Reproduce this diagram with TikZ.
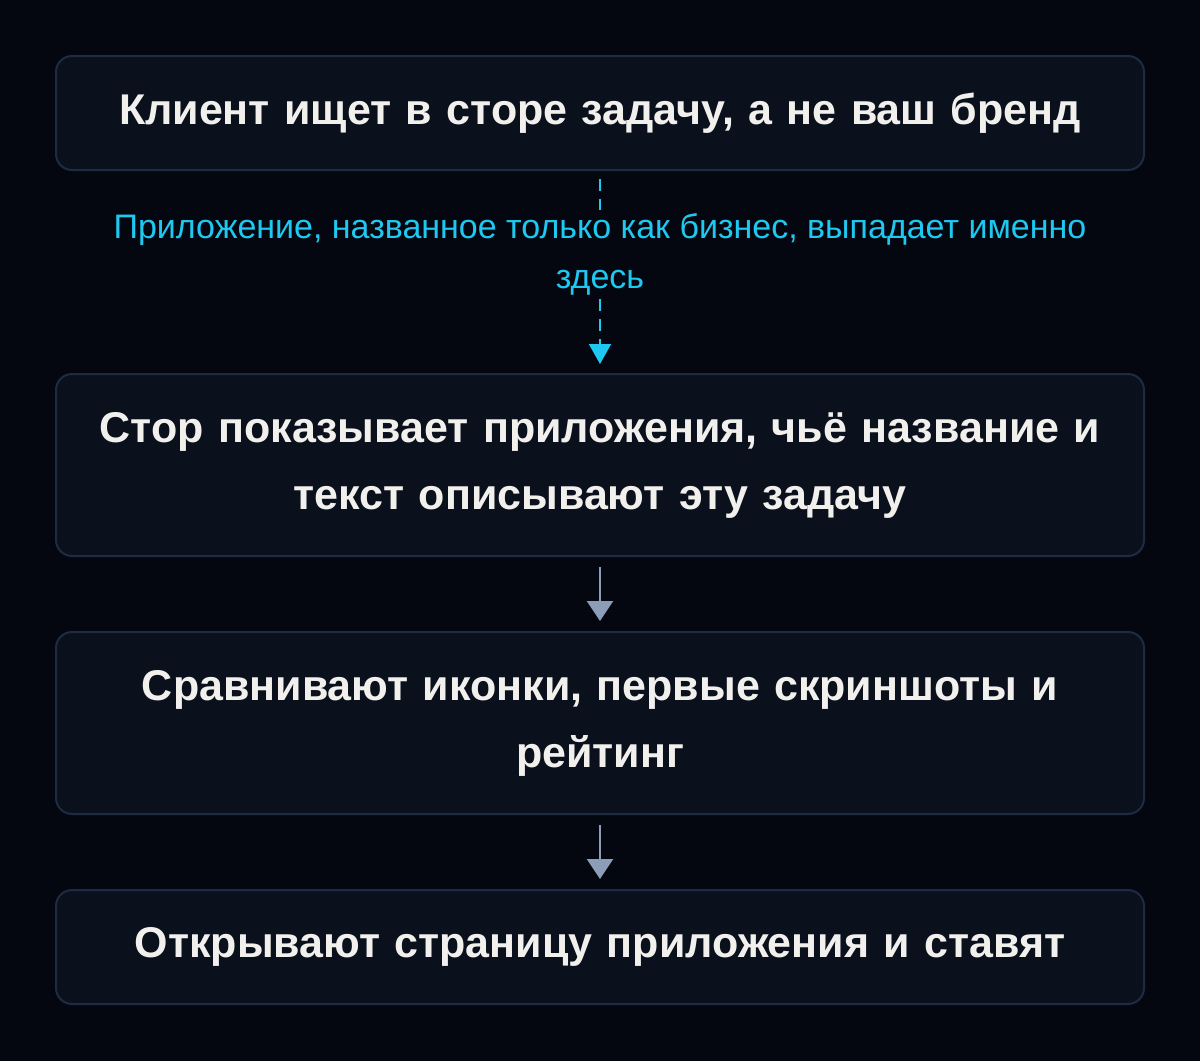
\documentclass[tikz,border=0pt]{standalone}
\usepackage{fontspec}
\setmainfont{Liberation Sans}[WordSpace=0.72]
\newfontfamily\lblfont{Liberation Sans}
\usetikzlibrary{arrows.meta}
\definecolor{bgc}{HTML}{04070F}
\definecolor{boxfill}{HTML}{0A111D}
\definecolor{boxline}{HTML}{1F2B42}
\definecolor{txtc}{HTML}{F2F0EC}
\definecolor{cyanc}{HTML}{1EC8F0}
\definecolor{grayarr}{HTML}{8C9DB8}
\tikzset{
  stepbox/.style={draw=boxline, line width=2pt, fill=boxfill, rounded corners=16pt,
    minimum width=1088pt, text width=1060pt, align=center, inner sep=0pt,
    text=txtc, font=\fontsize{43pt}{67pt}\selectfont\bfseries},
  lbl/.style={fill=bgc, text=cyanc, align=center, inner sep=3pt,
    font=\lblfont\fontsize{34pt}{50pt}\selectfont},
  flowarr/.style={draw=grayarr, line width=2.5pt, -{Triangle[width=26pt,length=20pt]},
    shorten <=10pt, shorten >=10pt},
  dasharr/.style={draw=cyanc, line width=2pt, dash pattern=on 12pt off 8pt,
    -{Triangle[width=22pt,length=20pt]}, shorten <=8pt, shorten >=9pt}
}
\begin{document}
\begin{tikzpicture}[x=1pt,y=1pt]
\fill[bgc] (0,0) rectangle (1200,-1061);
\useasboundingbox (0,0) rectangle (1200,-1061);
\node[stepbox, minimum height=114pt] (b1) at (600,-113) {Клиент ищет в сторе задачу, а не ваш бренд};
\node[stepbox, minimum height=182pt] (b2) at (600,-465) {Стор показывает приложения, чьё название и\\текст описывают эту задачу};
\node[stepbox, minimum height=182pt] (b3) at (600,-723) {Сравнивают иконки, первые скриншоты и\\рейтинг};
\node[stepbox, minimum height=114pt] (b4) at (600,-947) {Открывают страницу приложения и ставят};
\draw[dasharr] (b1.south) -- (b2.north);
\node[lbl] (l1) at (600,-254) {Приложение, названное только как бизнес, выпадает именно\\здесь};
\draw[flowarr] (b2.south) -- (b3.north);
\draw[flowarr] (b3.south) -- (b4.north);
\end{tikzpicture}
\end{document}
